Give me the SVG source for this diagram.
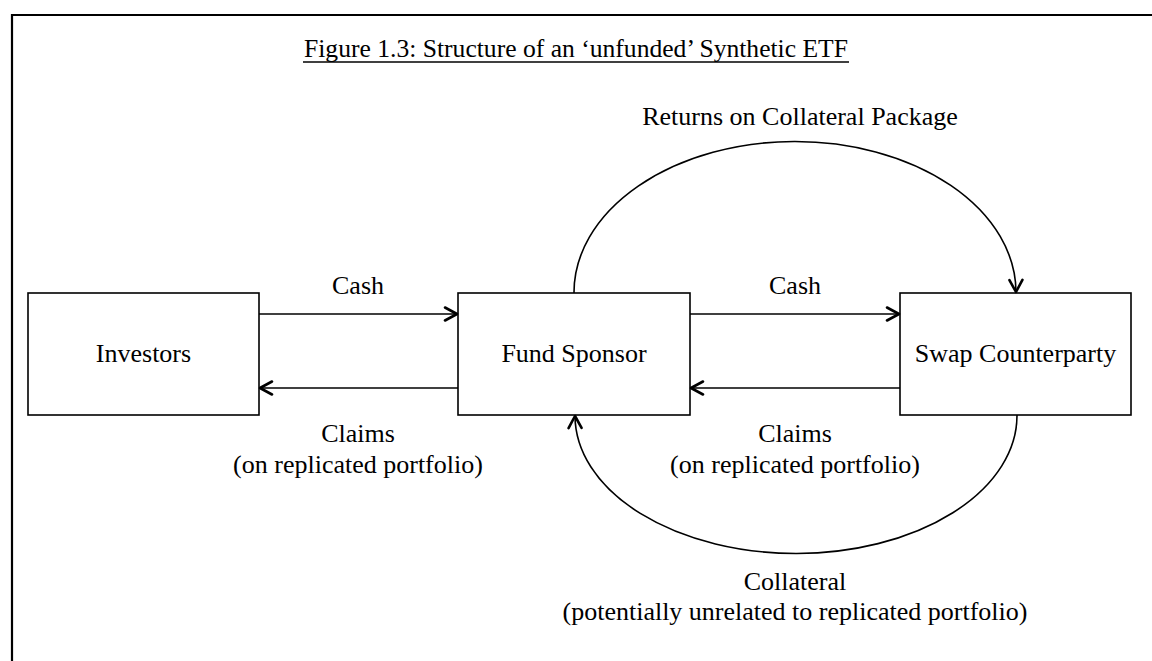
<svg xmlns="http://www.w3.org/2000/svg" width="1152" height="661" viewBox="0 0 1152 661">
<style>
text{font-family:"Liberation Serif","Times New Roman",serif;fill:#000;}
.lbl{font-size:26px;text-anchor:middle;}
.box{fill:#fff;stroke:#000;stroke-width:1.6;}
.edge{fill:none;stroke:#000;stroke-width:1.6;}
</style>
<defs>
<marker id="arr" markerUnits="userSpaceOnUse" markerWidth="16" markerHeight="16" viewBox="0 0 16 16" refX="14" refY="8" orient="auto">
<path d="M2,1.5 L14,8 L2,14.5" fill="none" stroke="#000" stroke-width="2.6" stroke-linejoin="round" stroke-linecap="round"/>
</marker>
</defs>
<rect width="1152" height="661" fill="#fff"/>
<path d="M12,661 L12,15 L1152,15" fill="none" stroke="#000" stroke-width="2.2"/>
<g id="title">
<text x="576" y="57" style="font-size:25.6px" text-anchor="middle">Figure 1.3: Structure of an ‘unfunded’ Synthetic ETF</text>
<line x1="303" y1="62" x2="849" y2="62" stroke="#000" stroke-width="1.4"/>
</g>
<g id="investors">
<rect class="box" x="28" y="293" width="231" height="122"/>
<text class="lbl" x="143.5" y="362">Investors</text>
</g>
<g id="fund-sponsor">
<rect class="box" x="458" y="293" width="232" height="122"/>
<text class="lbl" x="574" y="362">Fund Sponsor</text>
</g>
<g id="swap-counterparty">
<rect class="box" x="900" y="293" width="231" height="122"/>
<text class="lbl" x="1015.5" y="362">Swap Counterparty</text>
</g>
<g id="connectors">
<line class="edge" x1="259" y1="314" x2="457" y2="314" marker-end="url(#arr)"/>
<line class="edge" x1="458" y1="388" x2="260" y2="388" marker-end="url(#arr)"/>
<line class="edge" x1="690" y1="314" x2="899" y2="314" marker-end="url(#arr)"/>
<line class="edge" x1="900" y1="388" x2="691" y2="388" marker-end="url(#arr)"/>
<path class="edge" d="M574,293 A221,151 0 0 1 1016,292" marker-end="url(#arr)"/>
<path class="edge" d="M1017,415 A221,138 0 0 1 575,416" marker-end="url(#arr)"/>
</g>
<g id="labels">
<text class="lbl" x="358" y="294">Cash</text>
<text class="lbl" x="358" y="442">Claims</text>
<text class="lbl" x="358" y="473">(on replicated portfolio)</text>
<text class="lbl" x="795" y="294">Cash</text>
<text class="lbl" x="795" y="442">Claims</text>
<text class="lbl" x="795" y="473">(on replicated portfolio)</text>
<text class="lbl" x="800" y="125">Returns on Collateral Package</text>
<text class="lbl" x="795" y="590">Collateral</text>
<text class="lbl" x="795" y="620">(potentially unrelated to replicated portfolio)</text>
</g>
</svg>
